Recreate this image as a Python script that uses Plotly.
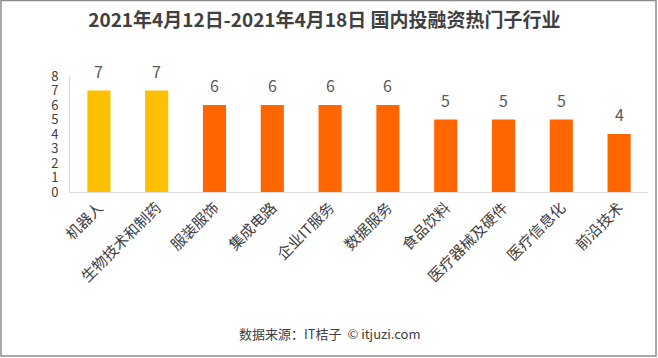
import plotly.graph_objects as go

categories = ["机器人", "生物技术和制药", "服装服饰", "集成电路", "企业IT服务",
              "数据服务", "食品饮料", "医疗器械及硬件", "医疗信息化", "前沿技术"]
values = [7, 7, 6, 6, 6, 6, 5, 5, 5, 4]
bar_colors = ["#FFC000", "#FFC000", "#FF6600", "#FF6600", "#FF6600",
              "#FF6600", "#FF6600", "#FF6600", "#FF6600", "#FF6600"]
y_ticks = [0, 1, 2, 3, 4, 5, 6, 7, 8]

FONT = "Noto Sans CJK SC, Microsoft YaHei, sans-serif"
W, H = 658, 358
L, R, T, B = 70, 10, 76, 166
pw, ph = W - L - R, H - T - B

fig = go.Figure(go.Bar(
    x=categories, y=values,
    marker=dict(color=bar_colors, line=dict(width=0)),
    hoverinfo="skip",
))

def px_x(p):
    return (p - L) / pw

def px_y(p):
    return (H - B - p) / ph

annotations = [dict(x=c, y=v, xref="x", yref="y", text=str(v), showarrow=False,
                    yanchor="bottom", yshift=6,
                    font=dict(size=16, color="#595959", family=FONT))
               for c, v in zip(categories, values)]
annotations.append(dict(text="数据来源：IT桔子  © itjuzi.com", xref="paper", yref="paper",
                        x=px_x(330), y=px_y(333), xanchor="center", yanchor="middle",
                        showarrow=False, font=dict(size=13, color="#404040", family=FONT)))

fig.update_layout(
    width=W, height=H,
    margin=dict(l=L, r=R, t=T, b=B),
    paper_bgcolor="white", plot_bgcolor="white",
    bargap=0.6,
    showlegend=False,
    title=dict(text="<b>2021年4月12日-2021年4月18日 国内投融资热门子行业</b>",
               x=0.493, xanchor="center", y=1 - 20 / H, yanchor="middle",
               font=dict(size=19, color="#404040", family=FONT)),
    xaxis=dict(showline=True, linecolor="#D9D9D9", linewidth=1, ticks="",
               tickangle=-45, tickfont=dict(size=15, color="#404040", family=FONT),
               showgrid=False, automargin=False),
    yaxis=dict(range=[0, 8], tickvals=y_ticks, showline=True, linecolor="#D9D9D9",
               linewidth=1, ticks="", showgrid=False, zeroline=False, automargin=False,
               tickfont=dict(size=13, color="#404040", family=FONT), ticklabelstandoff=8),
    shapes=[dict(type="rect", xref="paper", yref="paper",
                 x0=px_x(1), x1=px_x(656), y0=px_y(356), y1=px_y(0.5),
                 line=dict(color="#8C8C8C", width=1.5), fillcolor="rgba(0,0,0,0)")],
    annotations=annotations,
)

fig.write_html("out.html", config={"displayModeBar": False},
               post_script="document.body.style.margin='0';document.body.style.padding='0';")
